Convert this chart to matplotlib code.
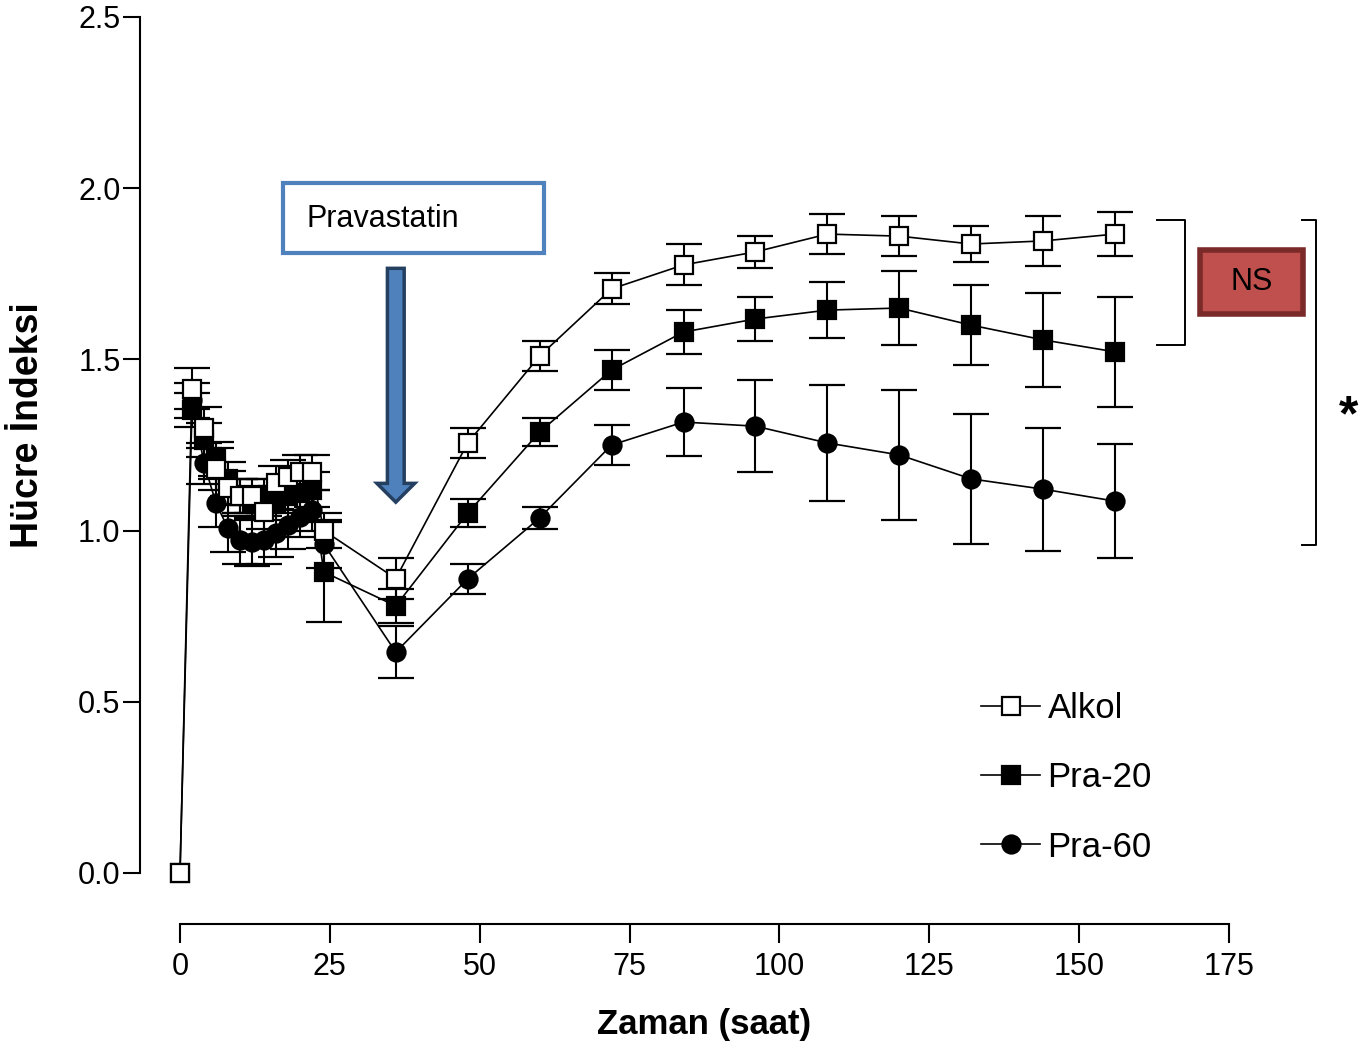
import matplotlib
matplotlib.use("agg")
import matplotlib.pyplot as plt
from matplotlib.patches import Rectangle, FancyArrow
import numpy as np

# time points (hours)
hours = [0, 2, 4, 6, 8, 10, 12, 14, 16, 18, 20, 22, 24,
         36, 48, 60, 72, 84, 96, 108, 120, 132, 144, 156]

alkol = [0.0, 1.414, 1.30, 1.18, 1.125, 1.10, 1.10, 1.055, 1.14, 1.157, 1.17, 1.17, 1.0,
         0.86, 1.256, 1.51, 1.706, 1.776, 1.814, 1.866, 1.860, 1.837, 1.846, 1.866]
alkol_err = [0.0, 0.06, 0.06, 0.06, 0.05, 0.05, 0.05, 0.05, 0.05, 0.05, 0.05, 0.05, 0.05,
             0.06, 0.045, 0.045, 0.045, 0.06, 0.047, 0.058, 0.058, 0.053, 0.073, 0.064]

pra20 = [0.0, 1.352, 1.265, 1.21, 1.15, 1.10, 1.08, 1.10, 1.08, 1.10, 1.11, 1.12, 0.879,
         0.78, 1.051, 1.288, 1.469, 1.58, 1.618, 1.644, 1.65, 1.60, 1.557, 1.522]
pra20_err = [0.0, 0.05, 0.05, 0.05, 0.05, 0.05, 0.05, 0.05, 0.05, 0.05, 0.05, 0.05, 0.146,
             0.05, 0.04, 0.04, 0.058, 0.064, 0.064, 0.082, 0.108, 0.117, 0.137, 0.16]

pra60 = [0.0, 1.38, 1.197, 1.08, 1.007, 0.973, 0.967, 0.973, 0.993, 1.016, 1.04, 1.06, 0.96,
         0.645, 0.859, 1.037, 1.25, 1.317, 1.305, 1.256, 1.221, 1.151, 1.121, 1.086]
pra60_err = [0.0, 0.05, 0.06, 0.07, 0.07, 0.07, 0.07, 0.07, 0.07, 0.07, 0.06, 0.06, 0.07,
             0.076, 0.044, 0.032, 0.058, 0.1, 0.134, 0.17, 0.19, 0.19, 0.18, 0.167]

labels = ["Alkol", "Pra-20", "Pra-60"]
xticks = [0, 25, 50, 75, 100, 125, 150, 175]
yticks = [0.0, 0.5, 1.0, 1.5, 2.0, 2.5]

arial = ["Liberation Sans", "DejaVu Sans"]

fig = plt.figure(figsize=(13.61, 10.52), dpi=100)
ax = fig.add_axes([140/1361, 128/1052, 1089/1361, 907/1052])

common = dict(color="black", lw=1.2, elinewidth=1.5, capsize=13, capthick=1.8,
              markersize=13, markeredgewidth=1.6, markeredgecolor="black", clip_on=False)

# no error bar at t=0
c60 = ax.errorbar(hours[1:], pra60[1:], yerr=pra60_err[1:], fmt="-o",
                  markerfacecolor="black", zorder=3, **common)
c20 = ax.errorbar(hours, pra20, yerr=pra20_err, fmt="-s", errorevery=(1, 1),
                  markerfacecolor="black", zorder=4, **common)
cal = ax.errorbar(hours, alkol, yerr=alkol_err, fmt="-s", errorevery=(1, 1),
                  markerfacecolor="white", zorder=5, **common)

ax.set_xlim(-40/5.994, 175)
ax.set_ylim(-51/342.4, 2.5)
for s in ["top", "right"]:
    ax.spines[s].set_visible(False)
ax.spines["left"].set_bounds(0, 2.5)
ax.spines["bottom"].set_bounds(0, 175)
ax.spines["left"].set_linewidth(1.5)
ax.spines["bottom"].set_linewidth(1.5)
ax.set_xticks(xticks)
ax.set_yticks(yticks)
ax.set_yticklabels([f"{v:.1f}" for v in yticks])
ax.tick_params(axis="y", length=12, width=1.5, pad=2)
ax.tick_params(axis="x", length=14, width=1.5, pad=6)
for t in ax.get_xticklabels() + ax.get_yticklabels():
    t.set_fontfamily(arial)
    t.set_fontsize(22)

ax.set_xlabel("Zaman (saat)", fontsize=25, fontweight="bold", family=arial, va="center")
ax.xaxis.set_label_coords(0.518, -0.111)
ax.set_ylabel("Hücre İndeksi", fontsize=27, fontweight="bold", family=arial, va="center")
ax.yaxis.set_label_coords(-0.103, 0.55)

leg = ax.legend([cal[0], c20[0], c60[0]], labels, loc="center left",
                bbox_to_anchor=(0.744, 0.161), frameon=False,
                prop={"family": arial, "size": 25}, handlelength=1.7,
                handletextpad=0.2, labelspacing=1.04)

# Pravastatin box and arrow
ax.add_patch(Rectangle((17.2, 1.812), 43.6, 0.204, fill=False, ec="#4f81bd",
                       lw=3, clip_on=False))
ax.text(21.1, 1.91, "Pravastatin", fontsize=22, family=arial, va="center", ha="left")
ax.add_patch(FancyArrow(36.0, 1.766, 0, -0.683, width=2.8, head_width=6.3,
                        head_length=0.055, length_includes_head=True,
                        fc="#4f81bd", ec="#243f60", lw=2.5, clip_on=False))

# significance brackets
ax.plot([163.0, 167.7, 167.7, 163.0], [1.907, 1.907, 1.542, 1.542], color="black",
        lw=1.4, clip_on=False)
ax.plot([187.2, 189.5, 189.5, 187.2], [1.907, 1.907, 0.958, 0.958], color="black",
        lw=1.4, clip_on=False)
ax.add_patch(Rectangle((170.2, 1.633), 17.2, 0.187, fc="#c0504d", ec="#7a2a28",
                       lw=4, clip_on=False))
ax.text(178.8, 1.726, "NS", fontsize=22, family=arial, ha="center", va="center")
ax.text(195.0, 1.33, "*", fontsize=36, fontweight="bold", family=arial,
        ha="center", va="center")

fig.savefig("out.png", dpi=100)
